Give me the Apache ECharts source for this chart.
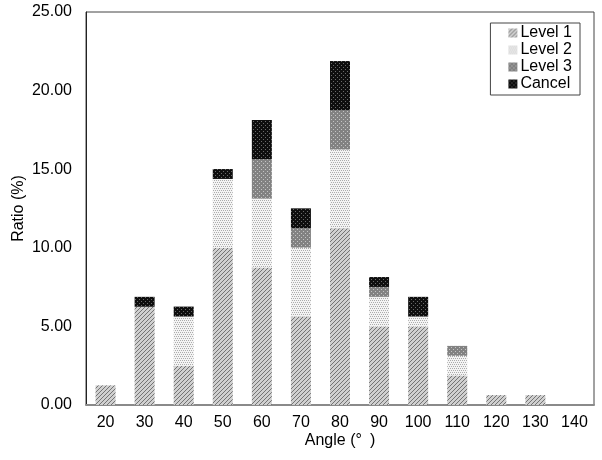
<!DOCTYPE html>
<html>
<head>
<meta charset="utf-8">
<script src="https://cdn.jsdelivr.net/npm/echarts@6/dist/echarts.min.js"></script>
<style>
html,body{margin:0;padding:0;background:#fff;}
#chart{width:602px;height:460px;}
</style>
</head>
<body>
<div id="chart"></div>
<script>
var categories = ['20','30','40','50','60','70','80','90','100','110','120','130','140'];
var level1 = [1.25, 6.25, 2.5, 10.0, 8.75, 5.63, 11.25, 5.0, 5.0, 1.88, 0.63, 0.63, 0];
var level2 = [0, 0, 3.13, 4.38, 4.38, 4.38, 5.0, 1.88, 0.63, 1.25, 0, 0, 0];
var level3 = [0, 0, 0, 0, 2.5, 1.25, 2.5, 0.63, 0, 0.63, 0, 0, 0];
var cancel = [0, 0.63, 0.63, 0.63, 2.5, 1.25, 3.13, 0.63, 1.25, 0, 0, 0, 0];
var seriesNames = ['Level 1', 'Level 2', 'Level 3', 'Cancel'];
var yTicks = {min: 0, max: 25, interval: 5};
var xName = 'Angle (°\u2002)';
var yName = 'Ratio (%)';

function makePattern(size, bg, fg, pixels) {
  var c = document.createElement('canvas');
  c.width = size; c.height = size;
  var ctx = c.getContext('2d');
  ctx.fillStyle = bg; ctx.fillRect(0, 0, size, size);
  ctx.fillStyle = fg;
  pixels.forEach(function (p) { ctx.fillRect(p[0], p[1], 1, 1); });
  return {image: c, repeat: 'repeat'};
}
var pat1 = makePattern(4, '#d0d0d0', '#747474', [[0,3],[1,2],[2,1],[3,0]]);
var pat2 = makePattern(4, '#f4f4f4', '#acacac', [[0,0],[2,0],[1,2],[3,2]]);
var pat3 = makePattern(4, '#828282', '#c4c4c4', [[1,1],[3,3]]);
var pat4 = makePattern(4, '#0e0e0e', '#6a6a6a', [[1,1],[3,3]]);
var patterns = [pat1, pat2, pat3, pat4];
var values = [level1, level2, level3, cancel];

var font = 'Liberation Sans, Arial, Helvetica, sans-serif';
var chart = echarts.init(document.getElementById('chart'), null, {renderer: 'canvas'});
chart.setOption({
  animation: false,
  backgroundColor: '#fff',
  textStyle: {fontFamily: font},
  grid: {left: 86, right: 8, top: 12, bottom: 55, show: true, borderColor: '#444', borderWidth: 1,
    backgroundColor: 'transparent', containLabel: false, outerBoundsMode: 'none'},
  legend: {
    orient: 'vertical',
    right: 22, top: 23,
    data: seriesNames,
    itemWidth: 9, itemHeight: 9, itemGap: 1,
    borderColor: '#444', borderWidth: 1,
    padding: [2, 8, 3, 18],
    textStyle: {fontSize: 16, color: '#000', fontFamily: font, padding: [0,0,0,-2]},
    icon: 'rect'
  },
  xAxis: {
    type: 'category',
    data: categories,
    name: xName,
    nameLocation: 'middle',
    nameGap: 28,
    nameMoveOverlap: false,
    nameTextStyle: {fontSize: 16, color: '#000', fontFamily: font},
    axisLine: {lineStyle: {color: '#8a8a8a', width: 2}},
    axisTick: {show: false},
    axisLabel: {fontSize: 16, color: '#000', margin: 10, fontFamily: font}
  },
  yAxis: {
    type: 'value',
    min: yTicks.min, max: yTicks.max, interval: yTicks.interval,
    name: yName,
    nameLocation: 'middle',
    nameGap: 59,
    nameMoveOverlap: false,
    nameTextStyle: {fontSize: 16, color: '#000', fontFamily: font},
    axisLine: {show: true, lineStyle: {color: '#222', width: 1}},
    axisTick: {show: false},
    splitLine: {show: false},
    axisLabel: {fontSize: 16, color: '#000', margin: 14, fontFamily: font,
      formatter: function (v) { return v.toFixed(2); }}
  },
  series: seriesNames.map(function (n, i) {
    return {
      name: n, type: 'bar', stack: 'total',
      barWidth: 20,
      data: values[i],
      itemStyle: {color: patterns[i]}
    };
  })
});
</script>
</body>
</html>
